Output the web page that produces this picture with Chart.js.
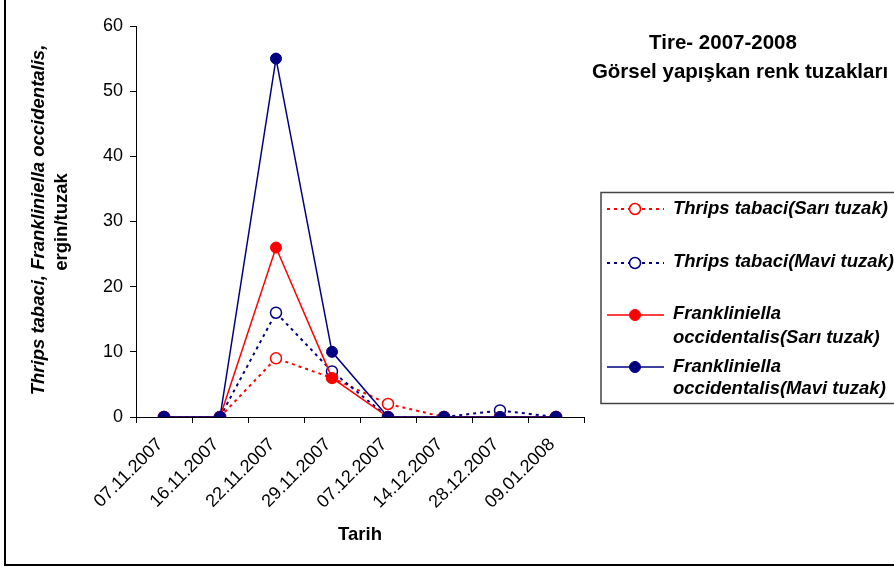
<!DOCTYPE html>
<html>
<head>
<meta charset="utf-8">
<script src="https://cdn.jsdelivr.net/npm/chart.js@4/dist/chart.umd.min.js"></script>
<style>
  html, body { margin: 0; padding: 0; background: #fff; }
  canvas { display: block; }
</style>
</head>
<body>
<canvas id="c" width="894" height="568"></canvas>
<script>
// Sampling dates (Tire, 2007-2008)
const dates = ['07.11.2007', '16.11.2007', '22.11.2007', '29.11.2007',
               '07.12.2007', '14.12.2007', '28.12.2007', '09.01.2008'];

// Adults per trap
const thripsSari = [0, 0, 9, 6, 2, 0, 0, 0];
const thripsMavi = [0, 0, 16, 7, 0, 0, 1, 0];
const frankSari  = [0, 0, 26, 6, 0, 0, 0, 0];
const frankMavi  = [0, 0, 55, 10, 0, 0, 0, 0];

// Y axis ticks
const yTicks = [0, 10, 20, 30, 40, 50, 60];

const RED = '#FF0000';
const NAVY = '#000080';
const FONT = '"Liberation Sans", Arial, Helvetica, sans-serif';

const series = [
  { name: ['Thrips tabaci(Sarı tuzak)'], data: thripsSari, color: RED, dotted: true, filled: false, order: 3 },
  { name: ['Thrips tabaci(Mavi tuzak)'], data: thripsMavi, color: NAVY, dotted: true, filled: false, order: 2 },
  { name: ['Frankliniella', 'occidentalis(Sarı tuzak)'], data: frankSari, color: RED, dotted: false, filled: true, order: 1 },
  { name: ['Frankliniella', 'occidentalis(Mavi tuzak)'], data: frankMavi, color: NAVY, dotted: false, filled: true, order: 0 }
];

const datasets = series.map(s => ({
  label: s.name.join(' '),
  data: s.data,
  order: s.order,
  borderColor: s.color,
  borderWidth: s.dotted ? 2 : 1.5,
  borderDash: s.dotted ? [3, 4] : [],
  fill: false,
  tension: 0,
  pointStyle: 'circle',
  pointRadius: 5.5,
  pointHoverRadius: 5.5,
  pointBorderWidth: s.filled ? 1 : 1.5,
  pointBorderColor: s.color,
  pointBackgroundColor: s.filled ? s.color : '#FFFFFF'
}));

// Frame, titles and the boxed legend
const decorations = {
  id: 'decorations',
  afterDraw(chart) {
    const ctx = chart.ctx;
    ctx.save();

    // outer frame
    ctx.strokeStyle = '#000';
    ctx.lineWidth = 2;
    ctx.strokeRect(5, -10, 910, 575);

    ctx.fillStyle = '#000';

    // chart title
    ctx.font = 'bold 20.5px ' + FONT;
    ctx.textAlign = 'center';
    ctx.textBaseline = 'alphabetic';
    ctx.fillText('Tire- 2007-2008', 723, 49);
    ctx.fillText('Görsel yapışkan renk tuzakları', 740, 78);

    // x axis title
    ctx.font = 'bold 18.5px ' + FONT;
    ctx.fillText('Tarih', 360, 540);

    // y axis title (two lines, rotated)
    ctx.save();
    ctx.translate(44, 220);
    ctx.rotate(-Math.PI / 2);
    ctx.font = 'italic bold 18.5px ' + FONT;
    ctx.fillText('Thrips tabaci, Frankliniella occidentalis,', 0, 0);
    ctx.restore();
    ctx.save();
    ctx.translate(67, 222);
    ctx.rotate(-Math.PI / 2);
    ctx.font = 'bold 18.5px ' + FONT;
    ctx.fillText('ergin/tuzak', 0, 0);
    ctx.restore();

    // legend box
    ctx.strokeStyle = '#444';
    ctx.lineWidth = 1.5;
    ctx.strokeRect(601, 192.5, 400, 211);

    const rows = [
      { lineY: 209, textY: [209] },
      { lineY: 263, textY: [262] },
      { lineY: 315, textY: [314, 338] },
      { lineY: 367, textY: [367, 389] }
    ];
    ctx.font = 'italic bold 18.5px ' + FONT;
    ctx.textAlign = 'left';
    ctx.textBaseline = 'middle';
    series.forEach((s, i) => {
      const r = rows[i];
      ctx.beginPath();
      ctx.strokeStyle = s.color;
      ctx.lineWidth = s.dotted ? 2 : 1.5;
      ctx.setLineDash(s.dotted ? [3, 4] : []);
      ctx.moveTo(607, r.lineY);
      ctx.lineTo(664, r.lineY);
      ctx.stroke();
      ctx.setLineDash([]);
      ctx.beginPath();
      ctx.arc(635, r.lineY, 5.5, 0, Math.PI * 2);
      ctx.fillStyle = s.filled ? s.color : '#FFFFFF';
      ctx.fill();
      ctx.lineWidth = s.filled ? 1 : 1.5;
      ctx.stroke();
      ctx.fillStyle = '#000';
      s.name.forEach((t, k) => ctx.fillText(t, 673, r.textY[k]));
    });

    ctx.restore();
  }
};

new Chart(document.getElementById('c'), {
  type: 'line',
  data: { labels: dates, datasets },
  options: {
    responsive: false,
    animation: false,
    devicePixelRatio: 1,
    layout: { padding: { left: 0, right: 310, top: 26, bottom: 0 } },
    plugins: {
      legend: { display: false },
      title: { display: false },
      tooltip: { enabled: false }
    },
    scales: {
      x: {
        type: 'category',
        offset: true,
        grid: { offset: true, drawOnChartArea: false, drawTicks: true, tickLength: 6, color: '#000', lineWidth: 1 },
        border: { color: '#000', width: 1 },
        ticks: {
          color: '#000',
          font: { family: FONT, size: 18 },
          minRotation: 45,
          maxRotation: 45,
          autoSkip: false,
          padding: 11,
          labelOffset: -4
        },
        afterFit(scale) { scale.height = 151; }
      },
      y: {
        min: 0,
        max: 60,
        afterBuildTicks(scale) { scale.ticks = yTicks.map(v => ({ value: v })); },
        grid: { drawOnChartArea: false, drawTicks: true, tickLength: 6, color: '#000', lineWidth: 1 },
        border: { color: '#000', width: 1 },
        ticks: {
          color: '#000',
          font: { family: FONT, size: 18 },
          padding: 7
        },
        afterFit(scale) { scale.width = 136; }
      }
    }
  },
  plugins: [decorations]
});
</script>
</body>
</html>
